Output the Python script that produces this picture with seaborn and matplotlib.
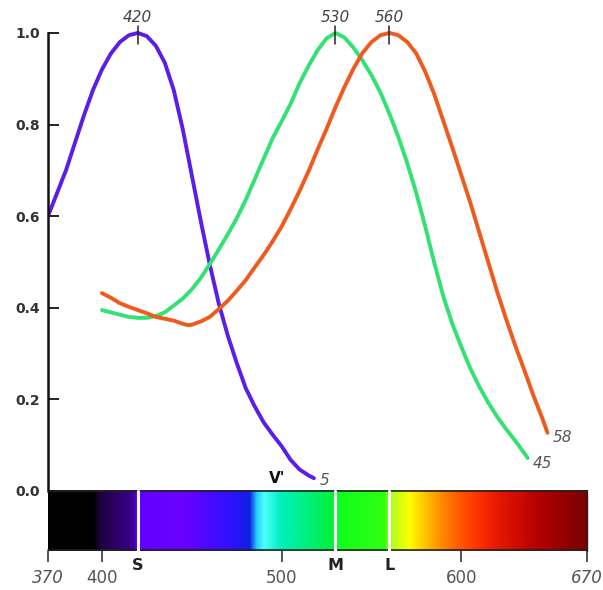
import numpy as np
import pandas as pd
import matplotlib
matplotlib.use("Agg")
import matplotlib.pyplot as plt
import seaborn as sns
from matplotlib.colors import LinearSegmentedColormap

# ---- data ----
s_nm = [370, 375, 380, 385, 390, 395, 400, 405, 410, 415, 420, 425, 430, 435, 440,
        445, 450, 455, 460, 465, 470, 475, 480, 485, 490, 495, 500, 505, 510, 515, 518]
s_val = [0.60, 0.65, 0.70, 0.76, 0.82, 0.875, 0.92, 0.955, 0.98, 0.995, 1.0, 0.993, 0.972, 0.935, 0.875,
         0.79, 0.69, 0.59, 0.495, 0.41, 0.34, 0.28, 0.225, 0.185, 0.15, 0.123, 0.098, 0.068, 0.047, 0.034, 0.028]

m_nm = [400, 405, 410, 415, 420, 425, 430, 435, 440, 445, 450, 455, 460, 465, 470, 475, 480, 485,
        490, 495, 500, 505, 510, 515, 520, 525, 530, 535, 540, 545, 550, 555, 560, 565, 570, 575,
        580, 585, 590, 595, 600, 605, 610, 615, 620, 625, 630, 637]
m_val = [0.395, 0.39, 0.385, 0.38, 0.378, 0.378, 0.382, 0.39, 0.405, 0.42, 0.44, 0.465, 0.495, 0.527,
         0.56, 0.595, 0.635, 0.68, 0.725, 0.77, 0.807, 0.845, 0.89, 0.928, 0.962, 0.988, 1.0, 0.99,
         0.968, 0.94, 0.908, 0.87, 0.824, 0.773, 0.715, 0.65, 0.577, 0.498, 0.425, 0.365, 0.315, 0.268,
         0.228, 0.193, 0.162, 0.135, 0.11, 0.072]

l_nm = [400, 405, 410, 415, 420, 425, 430, 435, 440, 445, 448, 450, 455, 460, 465, 470, 475, 480,
        485, 490, 495, 500, 505, 510, 515, 520, 525, 530, 535, 540, 545, 550, 555, 560, 565, 570,
        575, 580, 585, 590, 595, 600, 605, 610, 615, 620, 625, 630, 635, 640, 645, 648]
l_val = [0.432, 0.422, 0.41, 0.402, 0.395, 0.388, 0.38, 0.376, 0.372, 0.365, 0.362, 0.363, 0.37,
         0.38, 0.397, 0.415, 0.437, 0.46, 0.488, 0.515, 0.545, 0.577, 0.615, 0.655, 0.698, 0.745, 0.79,
         0.838, 0.882, 0.922, 0.956, 0.98, 0.995, 1.0, 0.995, 0.98, 0.955, 0.915, 0.866, 0.808, 0.75,
         0.69, 0.63, 0.565, 0.5, 0.435, 0.375, 0.318, 0.265, 0.21, 0.16, 0.127]

peaks = [420, 530, 560]
peak_labels = ["420", "530", "560"]
cone_labels = ["S", "M", "L"]
end_labels = ["5", "45", "58"]
x_ticks = [370, 400, 500, 600, 670]
x_tick_labels = ["370", "400", "500", "600", "670"]
y_ticks = [0.0, 0.2, 0.4, 0.6, 0.8, 1.0]
y_tick_labels = ["0.0", "0.2", "0.4", "0.6", "0.8", "1.0"]

# spectrum colour stops (wavelength, colour)
spec_nm = [370, 395, 399, 417, 419.5, 445, 471, 482, 486, 490, 499, 510, 527, 532, 557, 561,
           571, 580, 588, 597, 605, 616, 627, 644, 670]
spec_col = ["#000000", "#000000", "#200040", "#3a0090", "#6000ff", "#6a00ff", "#3010ff", "#1020e0",
            "#20d0ff", "#50ffff", "#00f0c0", "#00f090", "#00f040", "#10ff20", "#30ff10", "#b0ff20",
            "#ffff00", "#ffc000", "#ff9000", "#ff6000", "#ff4000", "#f02000", "#d81000", "#b00000",
            "#780000"]

# ---- figure ----
sns.set_style("white")
plt.rcParams['font.family'] = ['DejaVu Sans']
fig = plt.figure(figsize=(6.03, 5.90), dpi=100)
ax = fig.add_axes([0.0796, 0.0661, 0.8939, 0.8936])

XMIN, XMAX = 370, 670
BAR = -0.131

# spectrum bar
pos = [(n - XMIN) / (XMAX - XMIN) for n in spec_nm]
cmap = LinearSegmentedColormap.from_list("spec", list(zip(pos, spec_col)), N=1024)
grad = np.linspace(0, 1, 1200)[None, :]
ax.imshow(grad, extent=[XMIN, XMAX, BAR, 0], aspect='auto', cmap=cmap, zorder=1,
          interpolation='bilinear')
ax.plot([XMIN, XMAX], [0, 0], color="#222222", lw=1.2, zorder=2)
ax.plot([XMIN, XMAX], [BAR + 0.002, BAR + 0.002], color="#222222", lw=1.2, zorder=2, clip_on=False)
ax.plot([XMAX, XMAX], [BAR, 0], color="#222222", lw=1.0, zorder=2, clip_on=False)
for p in peaks:
    ax.plot([p, p], [BAR, 0], color="white", lw=2.2, zorder=2.5)

# curves
sns.lineplot(x=s_nm, y=s_val, color="#5a1ee8", lw=2.8, ax=ax, zorder=3)
sns.lineplot(x=m_nm, y=m_val, color="#33e272", lw=2.8, ax=ax, zorder=3)
sns.lineplot(x=l_nm, y=l_val, color="#ef5a1e", lw=2.8, ax=ax, zorder=3)

# peak markers and labels
for p, lab in zip(peaks, peak_labels):
    ax.plot([p, p], [0.975, 1.015], color="#222222", lw=1.1, zorder=4, clip_on=False)
    ax.text(p, 1.034, lab, ha="center", va="center", style="italic", fontsize=11,
            color="#444444", clip_on=False)

# cone letters under bar
for p, lab in zip(peaks, cone_labels):
    ax.text(p, -0.162, lab, ha="center", va="center", fontweight="bold", fontsize=11.5,
            color="#222222", clip_on=False)

# end labels
ax.text(s_nm[-1] + 3, s_val[-1] - 0.006, end_labels[0], ha="left", va="center",
        style="italic", fontsize=11, color="#555555")
ax.text(m_nm[-1] + 3, m_val[-1] - 0.011, end_labels[1], ha="left", va="center",
        style="italic", fontsize=11, color="#555555")
ax.text(l_nm[-1] + 3, l_val[-1] - 0.011, end_labels[2], ha="left", va="center",
        style="italic", fontsize=11, color="#555555")
ax.text(497.5, 0.028, "V'", ha="center", va="center", fontweight="bold", fontsize=11,
        color="#111111")

# axes
ax.set_xlim(XMIN, XMAX)
ax.set_ylim(BAR, 1.02)
ax.set_xlabel("")
ax.set_ylabel("")
for side in ["top", "right", "bottom"]:
    ax.spines[side].set_visible(False)
ax.spines["left"].set_bounds(0, 1)
ax.spines["left"].set_linewidth(1.8)
ax.spines["left"].set_color("#111111")
ax.spines["left"].set_zorder(5)

ax.set_yticks(y_ticks)
ax.set_yticklabels(y_tick_labels, fontweight="bold", fontsize=10, color="#333333")
ax.tick_params(axis="y", direction="in", length=8, width=1.3, color="#111111", pad=6, left=True)

ax.set_xticks(x_ticks)
ax.set_xticklabels(x_tick_labels, fontsize=12, color="#555555")
ax.tick_params(axis="x", direction="out", length=8, width=1.3, color="#444444", pad=5, bottom=True)
xl = ax.get_xticklabels()
xl[0].set_style("italic")
xl[-1].set_style("italic")

fig.savefig("out.png", dpi=100)
